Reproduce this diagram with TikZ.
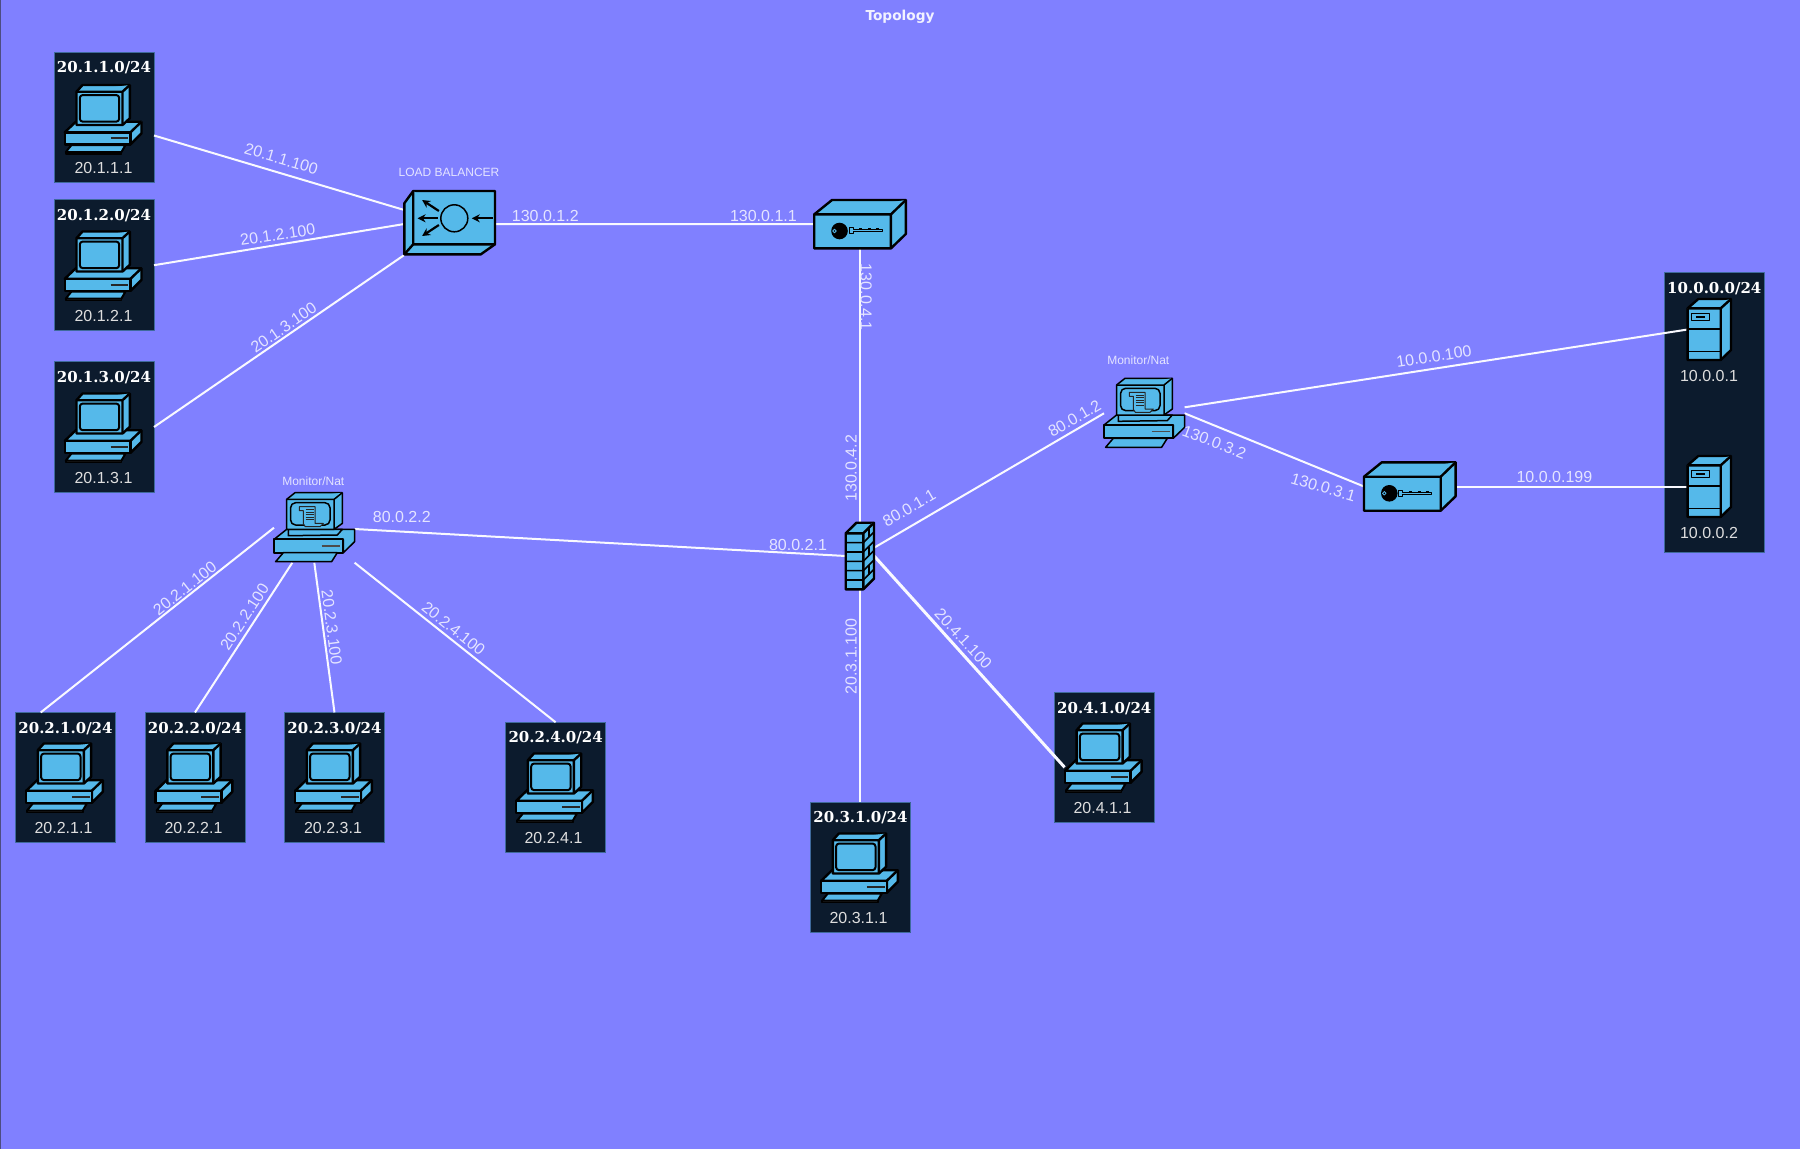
\documentclass[tikz,border=0pt]{standalone}
\usepackage{fontspec}
\setmainfont{Liberation Sans}
\newfontfamily\boxfont{DejaVu Serif}
\newfontfamily\headfont{DejaVu Sans}
\usetikzlibrary{arrows.meta}

\definecolor{netback}{HTML}{8080FF}
\definecolor{boxfill}{HTML}{0C1B2D}
\definecolor{boxline}{HTML}{3F6A9C}
\definecolor{iconfill}{HTML}{55B9EA}
\definecolor{lanetext}{HTML}{DEDEDE}
\definecolor{linktext}{HTML}{E4E4FF}

\tikzset{
	ico/.style={draw=black, fill=iconfill, line width=2.4pt},
	icothin/.style={draw=black, fill=iconfill, line width=1.5pt},
	computer/.pic={
		\draw[ico] (-38.7,13.3) -- (-27.7,2.7) -- (38,2.7) -- (38,14.3) -- (27,25.3) -- (27,13.3) -- cycle;
		\draw[ico] (27,13.3) -- (38,2.7);
		\draw[ico] (-27,-27.3) -- (-21,-34) -- (26.3,-34) -- (26.3,-0.7) -- (19,6) -- (-27,6) -- cycle;
		\draw[ico] (-27,-27.3) -- (19,-27.3) -- (26.3,-34) (19,-27.3) -- (19,6);
		\draw[ico, line width=2pt, rounded corners=3pt] (-23.7,-24) rectangle (15.7,2.7);
		\draw[ico] (-38.7,13.3) rectangle (27,25.3);
		\draw[line width=2pt, black!85] (7,19.3) -- (24.7,19.3);
		\draw[icothin, fill=black!80] (-37.7,33) -- (18,33) -- (18,35) -- (-37.7,35) -- cycle;
		\draw[ico, line width=2pt] (-32,26) -- (22,26) -- (18,33) -- (-37.7,33) -- cycle;
	},
	monitor/.pic={
		\draw[icothin] (-40.3,11.7) -- (-27.7,1.7) -- (40.3,1.7) -- (40.3,14) -- (29,25) -- (29,11.7) -- cycle;
		\draw[icothin] (-26,1.7) -- (-26,8) -- (23,7.3) -- (28,1.7) -- cycle;
		\draw[icothin] (-27.7,-28.3) -- (-19.3,-35) -- (28,-35) -- (28,-4.3) -- (19.7,1.7) -- (-27.7,1.7) -- cycle;
		\draw[icothin] (-27.7,-28.3) -- (19.7,-28.3) -- (28,-35) (19.7,-28.3) -- (19.7,1.7);
		\draw[icothin, rounded corners=5pt] (-23.7,-25) rectangle (15.7,-2.7);
		\draw[icothin, line width=2pt] (-40.3,11.7) rectangle (29,25);
		\draw[line width=1.4pt, black!70] (7.3,18.3) -- (25.7,18.3);
		\draw[icothin] (-31,25) -- (23,25) -- (17.3,34) -- (-38.7,34) -- cycle;
		% scroll on the screen
		\draw[icothin, draw=black!85, line width=1pt] (-15,-21) -- (0.7,-21) -- (0.7,-4.3) -- (9,-4.3) -- (5.7,-1) -- (-9,-1) -- (-11,-4) -- (-11,-17) -- (-15,-17) -- cycle;
		\draw[line width=1.2pt, black!85] (-8.7,-18) -- (0,-18) (-8.7,-15.5) -- (0,-15.5) (-8.7,-13) -- (0,-13) (-8.7,-10.5) -- (0,-10.5) (-8.7,-8) -- (0,-8);
	},
	keybox/.pic={
		\draw[ico] (-45.8,-9.8) -- (-28,-24.2) -- (45.8,-24.2) -- (45.8,9.8) -- (30.9,24.2) -- (-45.8,24.2) -- cycle;
		\draw[ico] (-45.8,-9.8) -- (30.9,-9.8) -- (45.8,-24.2) (30.9,-9.8) -- (30.9,24.2);
		\fill[black] (-20.5,6.8) circle (8.3pt);
		\draw[iconfill, line width=0.8pt] (-25.5,6.8) circle (1.8pt);
		\draw[black, line width=0.9pt, fill=iconfill] (-11,3.5) -- (-7,3.5) -- (-7,5.5) -- (22,5.5) -- (22,7.5) -- (-7,7.5) -- (-7,9.5) -- (-11,9.5) -- cycle;
		\draw[black, line width=1pt] (-1,4.5) -- (2,4.5) (8,4.5) -- (11,4.5) (16,4.5) -- (19,4.5);
	},
	balancer/.pic={
		\draw[ico] (-36.4,-31.7) -- (45.4,-31.7) -- (45.4,21.6) -- (31.1,31.7) -- (-45.3,31.7) -- (-45.3,-19.4) -- cycle;
		\draw[ico] (-36.4,-31.7) -- (-36.4,21.6) -- (45.4,21.6) (-36.4,21.6) -- (-45.3,31.7);
		\draw[black, line width=1.5pt] (4.7,-4.4) circle (13.5pt);
		\draw[black, line width=2.2pt, -{Stealth[length=8pt,width=8pt]}] (42.9,-4.4) -- (22.2,-4.4);
		\draw[black, line width=2.2pt, -{Stealth[length=8pt,width=8pt]}] (-11.7,-4.4) -- (-32,-4.4);
		\draw[black, line width=2.2pt, -{Stealth[length=8pt,width=8pt]}] (-10.7,-11.7) -- (-27.5,-22.7);
		\draw[black, line width=2.2pt, -{Stealth[length=8pt,width=8pt]}] (-10.7,2.3) -- (-27.5,13.3);
	},
	server/.pic={
		\draw[ico] (-21.7,-21.2) -- (-11,-30.5) -- (21.7,-30.5) -- (21.7,20.5) -- (11.4,30.5) -- (-21.7,30.5) -- cycle;
		\draw[ico] (-21.7,-21.2) -- (11.4,-21.2) -- (21.7,-30.5) (11.4,-21.2) -- (11.4,30.5);
		\draw[black, line width=2pt] (-21.7,-0.5) -- (11.4,-0.5);
		\draw[black, line width=1pt] (-21.7,22.2) -- (11.4,22.2);
		\draw[black, line width=1.5pt] (-17.6,-16.2) rectangle (0,-8.8);
		\draw[black, line width=1.2pt] (-13.5,-12.5) -- (-4,-12.5);
	},
	firewall/.pic={
		\draw[ico] (-14.3,-22.7) -- (-3.6,-33.3) -- (14,-33.3) -- (14,22.6) -- (3.3,33.3) -- (-14.3,33.3) -- cycle;
		\draw[ico] (-14.3,-22.7) -- (3.3,-22.7) -- (14,-33.3) (3.3,-22.7) -- (3.3,33.3);
		% the courses of bricks
		\draw[black, line width=1.6pt] (-14.3,-13.4) -- (3.3,-13.4) -- (14,-24) (-14.3,-4) -- (3.3,-4) -- (14,-14.7) (-14.3,5.3) -- (3.3,5.3) -- (14,-5.4) (-14.3,14.6) -- (3.3,14.6) -- (14,3.9) (-14.3,24) -- (3.3,24) -- (14,13.3);
		\draw[black, line width=1.6pt] (8.7,-28) -- (8.7,-18.7) (8.7,-9.4) -- (8.7,-0.1) (8.7,9.3) -- (8.7,18.6);
	},
}

\begin{document}
\begin{tikzpicture}[x=1pt, y=-1pt, join=round]
	\tikzstyle{netbox}=[draw=boxline, fill=boxfill, line width=1pt, inner sep=0pt, outer sep=0pt, minimum width=100pt, minimum height=130.5pt]
	\tikzstyle{lanehead}=[inner sep=0pt, text=white, font=\boxfont\bfseries\fontsize{15}{17}\selectfont]
	\tikzstyle{lanetext}=[inner sep=0pt, text=lanetext, font=\fontsize{16}{18}\selectfont]
	\tikzstyle{linklabel}=[inner sep=0pt, text=linktext, font=\fontsize{16}{18}\selectfont]
	\tikzstyle{devlabel}=[inner sep=0pt, text=linktext, font=\fontsize{12}{14}\selectfont]
	\tikzstyle{pcnode}=[inner sep=0pt, outer sep=0pt, minimum width=78pt, minimum height=72pt]
	\tikzstyle{mnnode}=[inner sep=0pt, outer sep=0pt, minimum width=80.6pt, minimum height=70pt]
	\tikzstyle{keynode}=[inner sep=0pt, outer sep=0pt, minimum width=91.6pt, minimum height=48.4pt]
	\tikzstyle{lbnode}=[inner sep=0pt, outer sep=0pt, minimum width=90.7pt, minimum height=63.4pt]
	\tikzstyle{svnode}=[inner sep=0pt, outer sep=0pt, minimum width=43.4pt, minimum height=61pt]
	\tikzstyle{fwnode}=[inner sep=0pt, outer sep=0pt, minimum width=28.3pt, minimum height=66.6pt]
	\tikzstyle{link}=[draw=white!95!netback, line width=2pt]

	\fill[netback] (0,0) rectangle (1800,1149);
	\useasboundingbox (0,0) rectangle (1800,1149);
	\draw[netback!45!black!90!white, line width=1pt] (0.5,0) -- (0.5,1149);

	\node[inner sep=0pt, text=white!90!netback, font=\headfont\bfseries\fontsize{13.7}{16}\selectfont] (topo) at (900,16.5) {Topology};

	% lan boxes
	\node[netbox] (b111) at (104,117.5) {};
	\node[netbox] (b121) at (104,265.2) {};
	\node[netbox] (b131) at (104,427) {};
	\node[netbox] (b211) at (65.5,777.7) {};
	\node[netbox] (b221) at (195,777.7) {};
	\node[netbox] (b231) at (334.5,777.7) {};
	\node[netbox] (b241) at (555.6,787.5) {};
	\node[netbox] (b311) at (860.5,867.3) {};
	\node[netbox] (b411) at (1104.3,757.5) {};
	\node[draw=boxline, fill=boxfill, line width=1pt, inner sep=0pt, outer sep=0pt, minimum width=100pt, minimum height=280.4pt] (b100) at (1714.3,412.5) {};

	\node[lanehead] (t111) at (104,68) {20.1.1.0/24};
	\node[lanehead] (t121) at (104,215.7) {20.1.2.0/24};
	\node[lanehead] (t131) at (104,377.5) {20.1.3.0/24};
	\node[lanehead] (t211) at (65.5,728.3) {20.2.1.0/24};
	\node[lanehead] (t221) at (195,728.3) {20.2.2.0/24};
	\node[lanehead] (t231) at (334.5,728.3) {20.2.3.0/24};
	\node[lanehead] (t241) at (555.6,738) {20.2.4.0/24};
	\node[lanehead] (t311) at (860.5,818) {20.3.1.0/24};
	\node[lanehead] (t411) at (1104.3,708.3) {20.4.1.0/24};
	\node[lanehead] (t100) at (1714.3,288.3) {10.0.0.0/24};

	\node[lanetext] (a111) at (103.5,167.5) {20.1.1.1};
	\node[lanetext] (a121) at (103.5,315.5) {20.1.2.1};
	\node[lanetext] (a131) at (103.5,477.5) {20.1.3.1};
	\node[lanetext] (a211) at (63.5,827.8) {20.2.1.1};
	\node[lanetext] (a221) at (193.5,827.8) {20.2.2.1};
	\node[lanetext] (a231) at (333,827.8) {20.2.3.1};
	\node[lanetext] (a241) at (553.5,838) {20.2.4.1};
	\node[lanetext] (a311) at (858.5,918) {20.3.1.1};
	\node[lanetext] (a411) at (1102.5,808) {20.4.1.1};
	\node[lanetext] (a101) at (1709,376.2) {10.0.0.1};
	\node[lanetext] (a102) at (1709,533.2) {10.0.0.2};

	% devices
	\node[pcnode] (pc111) at (103.5,119) {};
	\node[pcnode] (pc121) at (103.5,265.5) {};
	\node[pcnode] (pc131) at (103.5,427.5) {};
	\node[pcnode] (pc211) at (64.8,777.5) {};
	\node[pcnode] (pc221) at (194.3,777.5) {};
	\node[pcnode] (pc231) at (333.8,777.5) {};
	\node[pcnode] (pc241) at (554.9,787.5) {};
	\node[pcnode] (pc311) at (859.8,867.5) {};
	\node[pcnode] (pc411) at (1103.6,757.5) {};
	\node[mnnode] (mon1) at (314.3,527.7) {};
	\node[mnnode] (mon2) at (1144.3,413.3) {};
	\node[keynode] (key1) at (860,224.2) {};
	\node[keynode] (key2) at (1409.8,486.5) {};
	\node[lbnode] (lb) at (449.6,222.7) {};
	\node[svnode] (srv1) at (1709.3,329.5) {};
	\node[svnode] (srv2) at (1709.3,486.5) {};
	\node[fwnode] (fw) at (860,556) {};

	% links
	\draw[link] ([yshift=-18pt]b111.east) -- ([yshift=12.7pt]lb.west);
	\draw[link] (b121.east) -- ([yshift=-1.3pt]lb.west);
	\draw[link] (b131.east) -- ([yshift=-32.3pt]lb.west);
	\draw[link] ([yshift=-1.3pt]lb.east) -- (key1.west);
	\draw[link] (key1.south) -- (fw.north);
	\draw[link] (fw.west) -- ([yshift=-1.3pt]mon1.east);
	\draw[link] ([yshift=8.3pt]fw.east) -- (mon2.west);
	\draw[link] ([yshift=6pt]mon2.east) -- (srv1.west);
	\draw[link] (mon2.east) -- (key2.west);
	\draw[link] (key2.east) -- (srv2.west);
	\draw[link] (fw.south) -- ([xshift=-0.5pt]b311.north);
	\draw[link, line width=3pt] (fw.east) -- ([yshift=-9.8pt]pc411.west);
	\draw[link] (mon1.west) -- ([xshift=-24.8pt]b211.north);
	\draw[link] ([xshift=-22pt]mon1.south) -- (b221.north);
	\draw[link] (mon1.south) -- (b231.north);
	\draw[link] (mon1.south east) -- (b241.north);

	\pic at (pc111) {computer};
	\pic at (pc121) {computer};
	\pic at (pc131) {computer};
	\pic at (pc211) {computer};
	\pic at (pc221) {computer};
	\pic at (pc231) {computer};
	\pic at (pc241) {computer};
	\pic at (pc311) {computer};
	\pic at (pc411) {computer};
	\pic at (mon1) {monitor};
	\pic at (mon2) {monitor};
	\pic at (key1) {keybox};
	\pic at (key2) {keybox};
	\pic at (lb) {balancer};
	\pic at (srv1) {server};
	\pic at (srv2) {server};
	\pic at (fw) {firewall};

	\node[devlabel] (lblb) at (449,172.2) {LOAD BALANCER};
	\node[devlabel] (lbm1) at (313.3,481.2) {Monitor/Nat};
	\node[devlabel] (lbm2) at (1138.3,360.5) {Monitor/Nat};

	% link labels
	\node[linklabel, rotate=-16.6] (l1) at (281.3,158.9) {20.1.1.100};
	\node[linklabel, rotate=8.6] (l2) at (277.8,234.7) {20.1.2.100};
	\node[linklabel, rotate=34.4] (l3) at (283.6,327.7) {20.1.3.100};
	\node[linklabel] (l4) at (545.3,216.2) {130.0.1.2};
	\node[linklabel] (l5) at (763.4,216.2) {130.0.1.1};
	\node[linklabel, rotate=-90] (l6) at (866.2,297.3) {130.0.4.1};
	\node[linklabel, rotate=90] (l7) at (851.2,468.4) {130.0.4.2};
	\node[linklabel] (l8) at (401.8,517.1) {80.0.2.2};
	\node[linklabel] (l9) at (798,545) {80.0.2.1};
	\node[linklabel, rotate=30.2] (l10) at (909.2,507.9) {80.0.1.1};
	\node[linklabel, rotate=30.2] (l11) at (1074.5,418.4) {80.0.1.2};
	\node[linklabel, rotate=-20.7] (l12) at (1214.3,442.2) {130.0.3.2};
	\node[linklabel, rotate=-16.5] (l13) at (1323.3,487.2) {130.0.3.1};
	\node[linklabel, rotate=8.8] (l14) at (1433.9,356.4) {10.0.0.100};
	\node[linklabel] (l15) at (1554.4,476.9) {10.0.0.199};
	\node[linklabel, rotate=38.3] (l16) at (184.8,588.3) {20.2.1.100};
	\node[linklabel, rotate=57] (l17) at (244.5,617) {20.2.2.100};
	\node[linklabel, rotate=-82.6] (l18) at (331.8,627.3) {20.2.3.100};
	\node[linklabel, rotate=-38.7] (l19) at (453.5,628.5) {20.2.4.100};
	\node[linklabel, rotate=90] (l20) at (851.2,656.7) {20.3.1.100};
	\node[linklabel, rotate=-47.3] (l21) at (963.2,638.8) {20.4.1.100};
\end{tikzpicture}
\end{document}
